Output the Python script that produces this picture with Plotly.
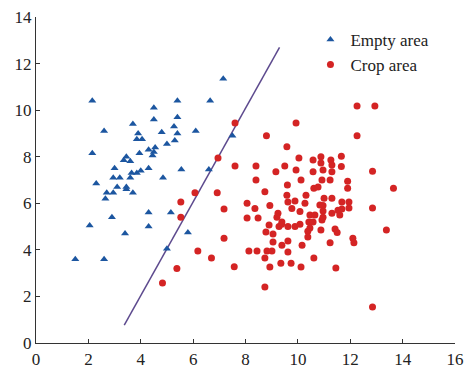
import plotly.graph_objects as go

# Empty area (blue triangles)
empty_x = [1.5, 2.6, 2.05, 2.9, 3.4, 4.3, 4.3, 5.15, 5.8, 5.0,
           2.65, 2.7, 2.95, 3.7, 3.45, 3.45, 3.1, 2.3,
           2.95, 3.2, 3.6, 4.85, 3.0, 3.65, 3.85, 4.0, 4.3, 5.55, 6.6,
           3.35, 3.6, 3.45, 3.95, 4.45, 2.15,
           4.3, 4.55, 5.0, 3.85, 4.05, 5.3, 7.5,
           3.9, 4.8, 5.4, 2.6, 6.1, 5.27, 3.7, 4.5, 5.4,
           4.5, 2.15, 5.4, 6.65, 7.15, 4.5]
empty_y = [3.6, 3.6, 5.05, 5.4, 4.7, 5.0, 5.6, 5.6, 4.75, 4.05,
           6.2, 6.45, 6.45, 6.45, 6.6, 6.7, 6.7, 6.85,
           7.1, 7.1, 7.1, 7.1, 7.5, 7.3, 7.3, 7.4, 7.5, 7.45, 7.45,
           7.85, 7.8, 8.0, 8.15, 8.05, 8.15,
           8.3, 8.4, 8.55, 8.75, 8.75, 8.7, 8.9,
           9.0, 9.05, 9.0, 9.1, 9.1, 9.3, 9.4, 9.6, 9.7,
           10.1, 10.4, 10.4, 10.4, 11.35, 8.2]

# Crop area (red circles)
crop_x = [4.83, 5.38, 5.53, 5.53, 6.07, 6.18, 6.7, 6.92, 6.95, 7.18, 7.18, 7.57, 7.6, 7.6,
          8.4, 8.4, 8.8, 8.06, 8.06, 8.48, 8.36, 8.74, 8.93, 8.13, 8.44, 8.82, 8.74, 8.78,
          8.74, 8.9, 8.93, 9.01, 9.05, 9.05,
          9.16, 9.5, 9.58, 9.93, 10.04, 9.93, 10.58, 10.88, 10.88, 11.26, 11.66, 11.3, 11.66,
          10.58, 10.96, 11.3,
          9.6, 10.12, 10.92, 11.23, 10.61, 10.77, 9.58, 10.31, 11.0, 11.3, 9.62, 9.89, 10.27,
          10.84, 9.77, 10.08, 10.96, 10.96,
          9.24, 9.2, 9.39, 9.28, 9.62, 9.89, 10.08, 10.42, 10.46, 10.65, 10.58, 10.92, 10.96,
          11.3, 11.6, 11.53, 10.46, 10.38, 10.88, 11.42, 11.5, 11.23, 10.38, 10.16, 9.62, 9.39,
          9.62, 9.35, 9.74, 10.12, 10.61, 11.45,
          11.9, 11.9, 11.68, 11.95, 11.68, 11.95, 12.1, 12.14, 12.26, 12.94, 12.26, 12.85,
          13.65, 12.85, 13.38, 12.85, 9.38]
crop_y = [2.58, 3.2, 5.4, 6.05, 6.45, 3.95, 3.65, 6.45, 7.95, 5.75, 4.5, 3.27, 9.45, 7.6,
          7.6, 7.0, 8.9, 6.0, 5.37, 5.37, 5.78, 6.5, 5.9, 3.95, 3.95, 3.95, 3.65, 4.77,
          2.4, 5.07, 3.26, 3.95, 4.68, 4.34,
          7.35, 7.6, 8.43, 9.45, 7.95, 7.43, 7.86, 8.0, 7.73, 7.86, 8.02, 7.64, 7.58,
          7.35, 7.43, 7.35,
          6.78, 7.0, 7.0, 7.0, 6.65, 6.7, 6.35, 6.35, 6.22, 6.22, 6.05, 6.1, 6.0,
          5.93, 5.78, 5.65, 5.67, 5.9,
          5.57, 5.4, 5.2, 5.0, 5.0, 5.0, 5.1, 5.2, 5.5, 5.5, 5.2, 5.28, 5.4,
          5.57, 5.5, 5.7, 4.94, 4.8, 4.85, 4.9, 4.75, 4.3, 4.55, 4.2, 4.38, 4.2,
          3.91, 3.43, 3.43, 3.26, 3.65, 3.22,
          6.95, 6.65, 6.05, 6.05, 5.75, 5.8, 4.5, 4.3, 10.18, 10.18, 8.9, 7.38,
          6.65, 5.8, 4.85, 1.55, 5.1]

# Separating line end points
line_x = [3.37, 9.3]
line_y = [0.77, 12.7]

fig = go.Figure()
fig.add_trace(go.Scatter(x=line_x, y=line_y, mode="lines",
                         line=dict(color="#5d4a8e", width=1.5),
                         showlegend=False, hoverinfo="skip"))
fig.add_trace(go.Scatter(x=empty_x, y=empty_y, mode="markers", name="Empty area",
                         marker=dict(symbol="triangle-up", size=7, color="#1c56a0")))
fig.add_trace(go.Scatter(x=crop_x, y=crop_y, mode="markers", name="Crop area",
                         marker=dict(symbol="circle", size=7, color="#d42424")))

axis_common = dict(showgrid=False, zeroline=False, showline=True, linecolor="#333",
                   linewidth=1.2, ticks="inside", ticklen=4, tickcolor="#333",
                   dtick=2, automargin=False, ticklabeloverflow="allow",
                   tickfont=dict(family="Liberation Serif", size=17, color="#222"))

fig.update_xaxes(range=[0, 16], tick0=0, **axis_common)
fig.update_yaxes(range=[0, 14], tick0=0, **axis_common)

fig.update_layout(
    width=464, height=370,
    margin=dict(l=36, r=9, t=17, b=27),
    plot_bgcolor="white", paper_bgcolor="white",
    font=dict(family="Liberation Serif", color="#222"),
    legend=dict(x=0.655, y=0.985, xanchor="left", yanchor="top",
                font=dict(family="Liberation Serif", size=17, color="#222"),
                bgcolor="rgba(0,0,0,0)", itemwidth=30, tracegroupgap=0),
)

fig.write_html(
    "out.html",
    config={"displayModeBar": False},
    post_script="document.body.style.margin='0';document.body.style.overflow='hidden';",
)
